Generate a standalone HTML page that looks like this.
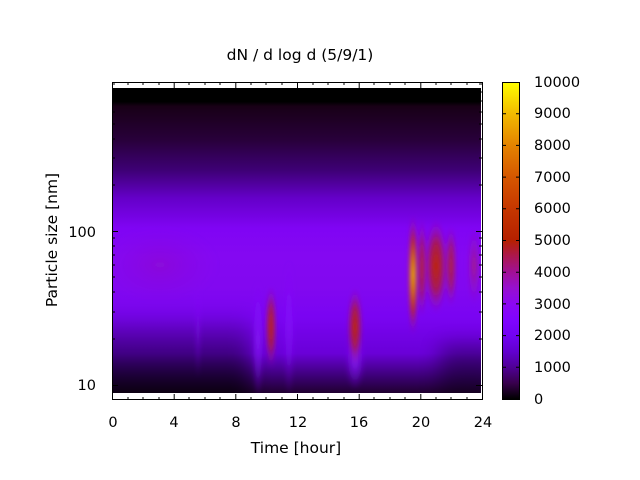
<!DOCTYPE html>
<html><head><meta charset="utf-8"><style>
html,body{margin:0;padding:0;background:#fff;}
svg{display:block;font-family:"DejaVu Sans","Liberation Sans",sans-serif;}
</style></head><body>
<svg width="640" height="480" viewBox="0 0 640 480" xmlns="http://www.w3.org/2000/svg">
<defs>
<linearGradient id="base" x1="0" y1="0" x2="0" y2="1">
<stop offset="0" stop-color="#000"/>
<stop offset="0.045" stop-color="#000"/>
<stop offset="0.06" stop-color="#180016"/>
<stop offset="0.17" stop-color="#28003a"/>
<stop offset="0.27" stop-color="#3e0076"/>
<stop offset="0.36" stop-color="#6400c8"/>
<stop offset="0.46" stop-color="#8004f4"/>
<stop offset="0.55" stop-color="#8408f2"/>
<stop offset="0.65" stop-color="#8208f0"/>
<stop offset="0.75" stop-color="#7a04f2"/>
<stop offset="0.87" stop-color="#6a00d8"/>
<stop offset="0.95" stop-color="#3a0070"/>
<stop offset="1" stop-color="#200030"/>
</linearGradient>
<linearGradient id="dark" x1="0" y1="0" x2="0" y2="1">
<stop offset="0" stop-color="#000" stop-opacity="0"/>
<stop offset="0.5" stop-color="#000" stop-opacity="0.45"/>
<stop offset="1" stop-color="#000" stop-opacity="0.75"/>
</linearGradient>
<radialGradient id="red" cx="0.5" cy="0.5" r="0.5">
<stop offset="0" stop-color="#c02800" stop-opacity="1"/>
<stop offset="0.5" stop-color="#b01c30" stop-opacity="0.8"/>
<stop offset="1" stop-color="#9010c0" stop-opacity="0"/>
</radialGradient>
<radialGradient id="yel" cx="0.5" cy="0.5" r="0.5">
<stop offset="0" stop-color="#f8d000"/>
<stop offset="0.3" stop-color="#e08000"/>
<stop offset="0.6" stop-color="#c02a00" stop-opacity="0.9"/>
<stop offset="1" stop-color="#9010c0" stop-opacity="0"/>
</radialGradient>
<radialGradient id="pink" cx="0.5" cy="0.5" r="0.5">
<stop offset="0" stop-color="#b02060" stop-opacity="0.8"/>
<stop offset="1" stop-color="#9010c0" stop-opacity="0"/>
</radialGradient>
<radialGradient id="vio" cx="0.5" cy="0.5" r="0.5">
<stop offset="0" stop-color="#9020ff" stop-opacity="0.8"/>
<stop offset="1" stop-color="#8010ff" stop-opacity="0"/>
</radialGradient>
<linearGradient id="cb" x1="0" y1="1" x2="0" y2="0">
<stop offset="0" stop-color="#000000"/>
<stop offset="0.05" stop-color="#38004d"/>
<stop offset="0.1" stop-color="#500096"/>
<stop offset="0.15" stop-color="#6200cf"/>
<stop offset="0.2" stop-color="#7202f2"/>
<stop offset="0.25" stop-color="#8004ff"/>
<stop offset="0.3" stop-color="#8c07f2"/>
<stop offset="0.35" stop-color="#9710cf"/>
<stop offset="0.4" stop-color="#a11096"/>
<stop offset="0.45" stop-color="#ab174f"/>
<stop offset="0.5" stop-color="#b52000"/>
<stop offset="0.6" stop-color="#c53700"/>
<stop offset="0.7" stop-color="#d55700"/>
<stop offset="0.8" stop-color="#e48300"/>
<stop offset="0.9" stop-color="#f2ba00"/>
<stop offset="1" stop-color="#ffff00"/>
</linearGradient>
<filter id="bl" x="-50%" y="-50%" width="200%" height="200%"><feGaussianBlur stdDeviation="2"/></filter>
<filter id="bl2" x="-50%" y="-50%" width="200%" height="200%"><feGaussianBlur stdDeviation="10"/></filter>
<clipPath id="pc"><rect x="112" y="88" width="369" height="305"/></clipPath>
</defs>

<rect x="112" y="88" width="369" height="305" fill="url(#base)"/>
<g clip-path="url(#pc)">
<rect x="90" y="310" width="160" height="100" fill="url(#dark)" filter="url(#bl2)"/>
<rect x="440" y="345" width="60" height="60" fill="#000" opacity="0.35" filter="url(#bl2)"/>
<g filter="url(#bl)">
<ellipse cx="160" cy="265" rx="60" ry="40" fill="url(#pink)" opacity="0.2"/>
<ellipse cx="258" cy="340" rx="6" ry="60" fill="url(#vio)"/>
<ellipse cx="289" cy="330" rx="6" ry="70" fill="url(#vio)" opacity="0.7"/>
<ellipse cx="198" cy="330" rx="3" ry="50" fill="url(#vio)" opacity="0.6"/>
<ellipse cx="355" cy="360" rx="10" ry="30" fill="url(#vio)"/>
<ellipse cx="271" cy="327" rx="6" ry="42" fill="url(#red)"/>
<ellipse cx="355" cy="327" rx="8" ry="40" fill="url(#red)"/>
<ellipse cx="436" cy="266" rx="12" ry="48" fill="url(#red)"/>
<ellipse cx="451" cy="266" rx="6" ry="42" fill="url(#red)" opacity="0.8"/>
<ellipse cx="474" cy="266" rx="7" ry="40" fill="url(#pink)"/>
<ellipse cx="422" cy="268" rx="4" ry="52" fill="url(#red)"/>
<ellipse cx="413" cy="275" rx="5" ry="62" fill="url(#yel)"/>
</g>
</g>
<rect x="112" y="393" width="369" height="7" fill="#fff"/>

<rect x="112.5" y="82.5" width="370" height="317" fill="none" stroke="#000" stroke-width="1"/>
<g stroke="#000" stroke-width="1">
<path d="M112.5,400v-6M174.2,400v-6M235.8,400v-6M297.5,400v-6M359.2,400v-6M420.8,400v-6M482.5,400v-6"/>
<path d="M112.5,82v6M174.2,82v6M235.8,82v6M297.5,82v6M359.2,82v6M420.8,82v6M482.5,82v6"/>
<path d="M128,400v-3M143,400v-3M159,400v-3M189,400v-3M205,400v-3M220,400v-3M251,400v-3M266,400v-3M282,400v-3M313,400v-3M328,400v-3M344,400v-3M374,400v-3M390,400v-3M405,400v-3M436,400v-3M451,400v-3M467,400v-3"/>
<path d="M128,82v3M143,82v3M159,82v3M189,82v3M205,82v3M220,82v3M251,82v3M266,82v3M282,82v3M313,82v3M328,82v3M344,82v3M374,82v3M390,82v3M405,82v3M436,82v3M451,82v3M467,82v3"/>
<path d="M112,385.5h6M112,231.5h6M482,385.5h-6M482,231.5h-6"/>
<path d="M112,339h3M112,312h3M112,292h3M112,277h3M112,265h3M112,255h3M112,246h3M112,238h3M112,185h3M112,158h3M112,139h3M112,124h3M112,112h3M112,101h3M112,92h3M112,84h3"/>
<path d="M482,339h-3M482,312h-3M482,292h-3M482,277h-3M482,265h-3M482,255h-3M482,246h-3M482,238h-3M482,185h-3M482,158h-3M482,139h-3M482,124h-3M482,112h-3M482,101h-3M482,92h-3M482,84h-3"/>
</g>

<rect x="502" y="82" width="18" height="317" fill="url(#cb)"/>
<rect x="502.5" y="82.5" width="17" height="317" fill="none" stroke="#000"/>
<g stroke="#000">
<path d="M502,367.3h4M502,335.6h4M502,303.9h4M502,272.2h4M502,240.5h4M502,208.8h4M502,177.1h4M502,145.4h4M502,113.7h4"/>
<path d="M520,367.3h-4M520,335.6h-4M520,303.9h-4M520,272.2h-4M520,240.5h-4M520,208.8h-4M520,177.1h-4M520,145.4h-4M520,113.7h-4"/>
</g>
<g font-size="14.5" fill="#000">
<text x="534" y="404">0</text>
<text x="534" y="372">1000</text>
<text x="534" y="340">2000</text>
<text x="534" y="309">3000</text>
<text x="534" y="277">4000</text>
<text x="534" y="245">5000</text>
<text x="534" y="213">6000</text>
<text x="534" y="182">7000</text>
<text x="534" y="150">8000</text>
<text x="534" y="118">9000</text>
<text x="534" y="87">10000</text>
</g>

<g font-size="14.5" fill="#000" text-anchor="middle">
<text x="113" y="427">0</text>
<text x="174" y="427">4</text>
<text x="236" y="427">8</text>
<text x="298" y="427">12</text>
<text x="359" y="427">16</text>
<text x="421" y="427">20</text>
<text x="483" y="427">24</text>
</g>
<g font-size="15.5" fill="#000" text-anchor="middle">
<text x="296" y="453">Time [hour]</text>
<text x="300" y="60">dN / d log d (5/9/1)</text>
</g>
<g font-size="14.5" fill="#000" text-anchor="end">
<text x="96" y="237">100</text>
<text x="96" y="390">10</text>
</g>
<text x="57" y="240" font-size="15.5" text-anchor="middle" transform="rotate(-90 57 240)">Particle size [nm]</text>
</svg>
</body></html>
